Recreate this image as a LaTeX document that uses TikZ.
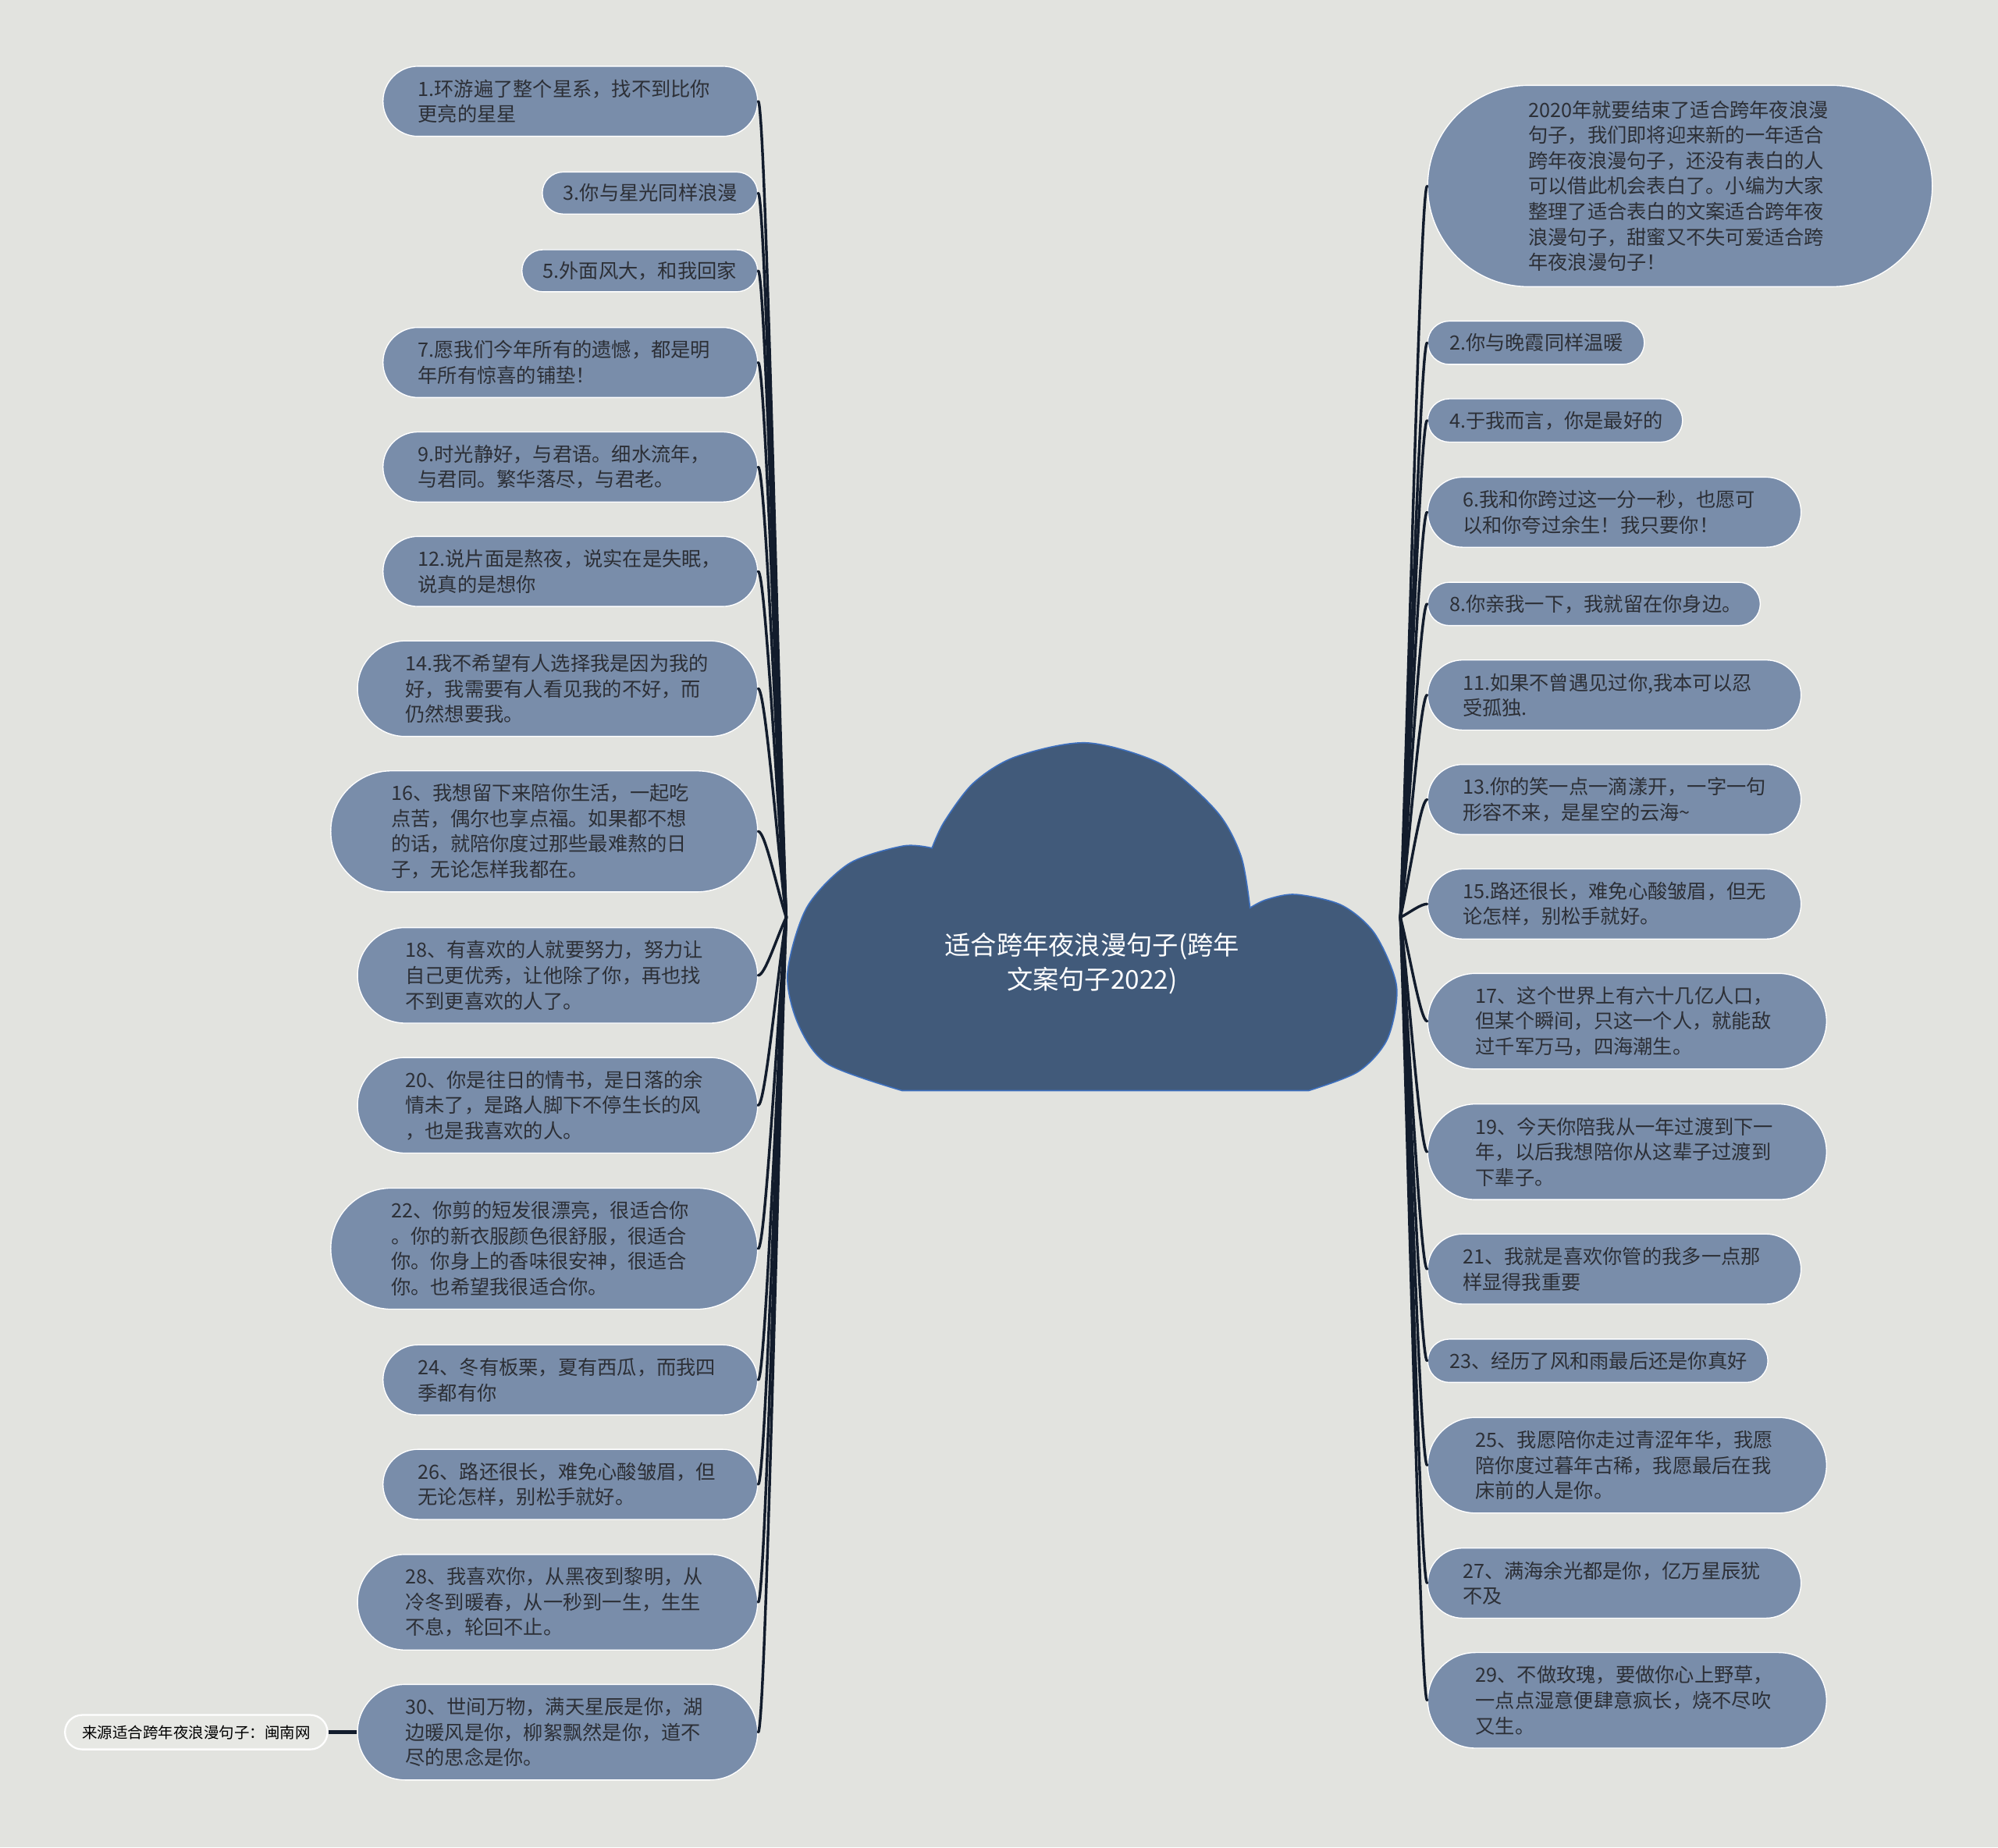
\documentclass[tikz,border=0pt]{standalone}
\usepackage{fontspec}
\setmainfont{Noto Sans CJK SC}
\usetikzlibrary{calc}

\definecolor{bgcol}{RGB}{226,227,223}
\definecolor{srcfill}{RGB}{231,232,228}
\definecolor{leafcol}{RGB}{121,141,170}
\definecolor{cloudcol}{RGB}{65,90,122}
\definecolor{cloudline}{RGB}{62,112,190}
\definecolor{twigcol}{RGB}{18,28,44}
\definecolor{inkcol}{RGB}{44,47,54}

\tikzset{
  leaf/.style={draw=white, line width=0.6pt, fill=leafcol, text=inkcol,
    align=left, inner sep=0pt, font=\fontsize{11}{14.2}\selectfont},
  srcbox/.style={draw=white, line width=1pt, fill=srcfill, text=black,
    inner sep=0pt, minimum width=5.15cm, minimum height=0.675cm,
    rounded corners=0.3375cm, font=\fontsize{8.5}{10}\selectfont},
  cloud/.style={fill=cloudcol, draw=cloudline, line width=0.7pt},
  title/.style={text=white, align=center, font=\fontsize{14.5}{19.2}\selectfont},
  twig/.style={draw=twigcol, line width=1.5pt, line cap=round}
}

% leaf: name, anchor, x, centre y, width, height, text (sizes in px)
\newcommand{\leafnode}[7]{%
  \pgfmathsetmacro\mw{#5*0.025}%
  \pgfmathsetmacro\mh{#6*0.025}%
  \pgfmathsetmacro\tw{(#5-#6)*0.025}%
  \pgfmathsetmacro\rr{#6*0.0125}%
  \node[leaf, anchor=#2, minimum width=\mw cm, minimum height=\mh cm,
    text width=\tw cm, rounded corners=\rr cm] (#1) at (#3,#4) {#7};}

% branch from a hub to a leaf
\newcommand{\twigL}[1]{%
  \draw[twig] (hubL) .. controls ($(hubL)!0.33!(#1.east)$) and ($(#1.east)!0.25!(#1.east -| hubL)$) .. (#1.east);}
\newcommand{\twigR}[1]{%
  \draw[twig] (hubR) .. controls ($(hubR)!0.33!(#1.west)$) and ($(#1.west)!0.25!(#1.west -| hubR)$) .. (#1.west);}

\begin{document}
\begin{tikzpicture}[x=0.025cm, y=-0.025cm]
  \useasboundingbox (0,0) rectangle (1568,1450);
  \fill[bgcol] (0,0) rectangle (1568,1450);

  % --- central cloud ---
  \filldraw[cloud] (708,856) -- (1027,856)
    -- plot[smooth] coordinates {(1027,856) (1066,841) (1089,815) (1096,774) (1079,733) (1053,710.5) (1017,702) (994,706) (981,712.5)}
    -- plot[smooth] coordinates {(981,712.5) (974,672) (955,637) (912,600) (853,583) (797,594) (764,614.5) (741,645) (731.4,665.6)}
    -- plot[smooth] coordinates {(731.4,665.6) (708.5,664) (666,678) (633,712.5) (618,764) (626.5,804) (649.4,835) (708,856)}
    -- cycle;
  \node[title] (root) at (857,756) {适合跨年夜浪漫句子(跨年\\文案句子2022)};
  \coordinate (hubL) at (617,720);
  \coordinate (hubR) at (1099,720);

  % --- left leaves ---
  \foreach \nm/\cy/\w/\h/\txt in {
    L1/79.5/294/55/{1.环游遍了整个星系，找不到比你\\更亮的星星},
    L3/151.5/169/33/{3.你与星光同样浪漫},
    L5/212.5/185/33/{5.外面风大，和我回家},
    L7/284.5/294/55/{7.愿我们今年所有的遗憾，都是明\\年所有惊喜的铺垫！},
    L9/366.5/294/55/{9.时光静好，与君语。细水流年，\\与君同。繁华落尽，与君老。},
    L12/448.5/294/55/{12.说片面是熬夜，说实在是失眠，\\说真的是想你},
    L14/540.5/314/75/{14.我不希望有人选择我是因为我的\\好，我需要有人看见我的不好，而\\仍然想要我。},
    L16/652.5/335/95/{16、我想留下来陪你生活，一起吃\\点苦，偶尔也享点福。如果都不想\\的话，就陪你度过那些最难熬的日\\子，无论怎样我都在。},
    L18/765.5/314/75/{18、有喜欢的人就要努力，努力让\\自己更优秀，让他除了你，再也找\\不到更喜欢的人了。},
    L20/867.5/314/75/{20、你是往日的情书，是日落的余\\情未了，是路人脚下不停生长的风\\，也是我喜欢的人。},
    L22/980/335/95/{22、你剪的短发很漂亮，很适合你\\。你的新衣服颜色很舒服，很适合\\你。你身上的香味很安神，很适合\\你。也希望我很适合你。},
    L24/1083/294/55/{24、冬有板栗，夏有西瓜，而我四\\季都有你},
    L26/1165/294/55/{26、路还很长，难免心酸皱眉，但\\无论怎样，别松手就好。},
    L28/1257.5/314/75/{28、我喜欢你，从黑夜到黎明，从\\冷冬到暖春，从一秒到一生，生生\\不息，轮回不止。},
    L30/1359.5/314/75/{30、世间万物，满天星辰是你，湖\\边暖风是你，柳絮飘然是你，道不\\尽的思念是你。}} {
    \leafnode{\nm}{east}{595}{\cy}{\w}{\h}{\txt}
  }

  % --- right leaves ---
  \foreach \nm/\cy/\w/\h/\txt in {
    R0/146/396/158/{2020年就要结束了适合跨年夜浪漫\\句子，我们即将迎来新的一年适合\\跨年夜浪漫句子，还没有表白的人\\可以借此机会表白了。小编为大家\\整理了适合表白的文案适合跨年夜\\浪漫句子，甜蜜又不失可爱适合跨\\年夜浪漫句子！},
    R2/269/170/34/{2.你与晚霞同样温暖},
    R4/330/200/34/{4.于我而言，你是最好的},
    R6/402/293/55/{6.我和你跨过这一分一秒，也愿可\\以和你夸过余生！我只要你！},
    R8/474/261/34/{8.你亲我一下，我就留在你身边。},
    R11/545.5/293/55/{11.如果不曾遇见过你,我本可以忍\\受孤独.},
    R13/627.5/293/55/{13.你的笑一点一滴漾开，一字一句\\形容不来，是星空的云海\textasciitilde},
    R15/709.5/293/55/{15.路还很长，难免心酸皱眉，但无\\论怎样，别松手就好。},
    R17/801.5/313/75/{17、这个世界上有六十几亿人口，\\但某个瞬间，只这一个人，就能敌\\过千军万马，四海潮生。},
    R19/904/313/75/{19、今天你陪我从一年过渡到下一\\年，以后我想陪你从这辈子过渡到\\下辈子。},
    R21/996/293/55/{21、我就是喜欢你管的我多一点那\\样显得我重要},
    R23/1068/267/34/{23、经历了风和雨最后还是你真好},
    R25/1150/313/75/{25、我愿陪你走过青涩年华，我愿\\陪你度过暮年古稀，我愿最后在我\\床前的人是你。},
    R27/1242.5/293/55/{27、满海余光都是你，亿万星辰犹\\不及},
    R29/1334.5/313/75/{29、不做玫瑰，要做你心上野草，\\一点点湿意便肆意疯长，烧不尽吹\\又生。}} {
    \leafnode{\nm}{west}{1120}{\cy}{\w}{\h}{\txt}
  }

  % --- branches ---
  \foreach \nm in {L1,L3,L5,L7,L9,L12,L14,L16,L18,L20,L22,L24,L26,L28,L30} {\twigL{\nm}}
  \foreach \nm in {R0,R2,R4,R6,R8,R11,R13,R15,R17,R19,R21,R23,R25,R27,R29} {\twigR{\nm}}

  % --- source note ---
  \node[srcbox] (src) at (154,1359.5) {来源适合跨年夜浪漫句子：闽南网};
  \draw[twigcol, line width=2.2pt] (src) -- (L30);
\end{tikzpicture}
\end{document}
